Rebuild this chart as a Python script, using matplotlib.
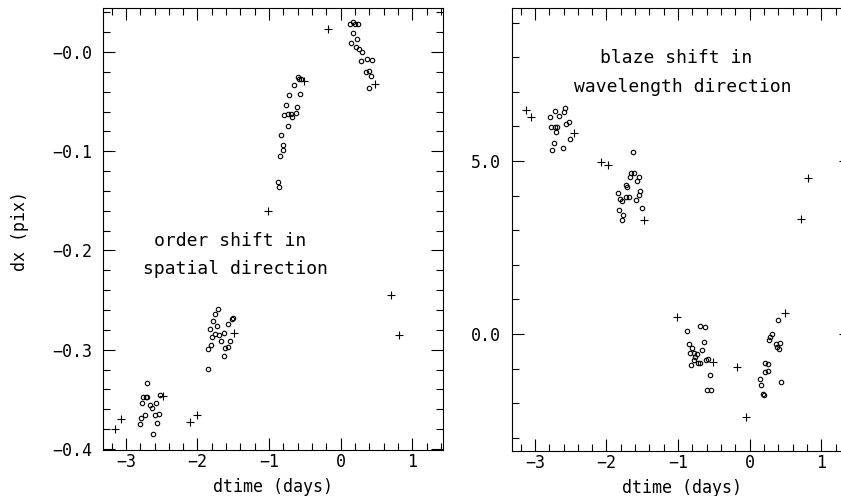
import matplotlib
matplotlib.use("Agg")
import matplotlib.pyplot as plt
from matplotlib.ticker import MultipleLocator, FixedLocator, FixedFormatter

# -= left panel: order shift (dx, pix) =-
left_circ_t = [0.13, 0.17, 0.20, 0.24, 0.17, 0.235, 0.15, 0.21, 0.26, 0.30, 0.29, 0.37, 0.44, 0.36, 0.39, 0.42, 0.40,
               -0.60, -0.58, -0.56, -0.65, -0.72, -0.57, -0.76, -0.61, -0.79, -0.73, -0.70, -0.63, -0.68, -0.74,
               -0.83, -0.80, -0.81, -0.85, -0.88, -0.86,
               -1.71, -1.76, -1.78, -1.73, -1.83, -1.58, -1.52, -1.51, -1.75, -1.70, -1.63, -1.80, -1.67, -1.55,
               -1.81, -1.85, -1.61, -1.57, -1.63, -1.86,
               -2.71, -2.76, -2.72, -2.70, -2.78, -2.58, -2.67, -2.64, -2.53, -2.74, -2.79, -2.60, -2.54, -2.81,
               -2.56, -2.62]
left_circ_dx = [0.028, 0.030, 0.028, 0.028, 0.019, 0.013, 0.009, 0.005, 0.003, 0.000, -0.009, -0.007, -0.008, -0.020,
                -0.019, -0.024, -0.036,
                -0.025, -0.027, -0.027, -0.033, -0.043, -0.042, -0.053, -0.055, -0.063, -0.062, -0.062, -0.061,
                -0.066, -0.075, -0.084, -0.094, -0.099, -0.105, -0.131, -0.136,
                -0.259, -0.264, -0.271, -0.276, -0.279, -0.274, -0.269, -0.268, -0.284, -0.285, -0.283, -0.287,
                -0.291, -0.291, -0.295, -0.299, -0.298, -0.297, -0.306, -0.319,
                -0.334, -0.348, -0.348, -0.348, -0.354, -0.354, -0.356, -0.359, -0.346, -0.366, -0.369, -0.366,
                -0.365, -0.375, -0.374, -0.385]
left_plus_t = [-0.18, 0.48, -0.51, -1.02, -1.49, -2.48, -3.07, -3.15, -2.10, -2.00, 0.71, 0.82]
left_plus_dx = [0.023, -0.032, -0.029, -0.160, -0.283, -0.347, -0.370, -0.380, -0.373, -0.366, -0.245, -0.285]

# -= right panel: blaze shift =-
right_circ_t = [-2.58, -2.60, -2.72, -2.79, -2.66, -2.78, -2.72, -2.69, -2.70, -2.57, -2.53, -2.51, -2.74, -2.61, -2.76,
                -1.63, -1.66, -1.61, -1.67, -1.54, -1.57, -1.73, -1.71, -1.53, -1.54, -1.84, -1.69, -1.73, -1.81,
                -1.79, -1.59, -1.51, -1.83, -1.77, -1.78,
                -0.87, -0.69, -0.62, -0.85, -0.64, -0.80, -0.67, -0.84, -0.78, -0.73, -0.76, -0.78, -0.61, -0.58,
                -0.82, -0.72, -0.70, -0.56, -0.60, -0.54,
                0.39, 0.31, 0.29, 0.27, 0.37, 0.43, 0.38, 0.41, 0.22, 0.26, 0.21, 0.25, 0.14, 0.16, 0.44, 0.18, 0.20]
right_circ_dw = [6.54, 6.42, 6.44, 6.26, 6.29, 5.97, 5.99, 5.97, 5.83, 6.06, 6.12, 5.63, 5.52, 5.38, 5.31,
                 5.26, 4.64, 4.64, 4.53, 4.55, 4.41, 4.30, 4.26, 4.12, 4.02, 4.08, 3.97, 3.95, 3.89, 3.84, 3.87,
                 3.65, 3.57, 3.43, 3.29,
                 0.10, 0.23, 0.19, -0.29, -0.23, -0.40, -0.46, -0.56, -0.55, -0.59, -0.66, -0.75, -0.75, -0.71,
                 -0.89, -0.84, -0.84, -1.18, -1.62, -1.62,
                 0.40, 0.00, -0.08, -0.18, -0.30, -0.26, -0.37, -0.43, -0.83, -0.87, -1.09, -1.06, -1.30, -1.48,
                 -1.38, -1.73, -1.75]
right_plus_t = [-3.12, -3.05, -2.46, -2.08, -1.98, -1.48, 0.82, 0.72, 1.30, 1.30, -1.02, 0.50, -0.17, -0.05, -0.51]
right_plus_dw = [6.47, 6.26, 5.82, 4.96, 4.88, 3.29, 4.52, 3.32, 5.0, 0.0, 0.49, 0.61, -0.96, -2.39, -0.81]

xticks = [-3, -2, -1, 0, 1]
xtick_labels = ["\u22123", "\u22122", "\u22121", "0", "1"]
left_yticks = [0.0, -0.1, -0.2, -0.3, -0.4]
left_ytick_labels = ["\u22120.0", "\u22120.1", "\u22120.2", "\u22120.3", "\u22120.4"]
right_yticks = [0.0, 5.0, 10.0]
right_ytick_labels = ["0.0", "5.0", "10.0"]

plt.rcParams['font.family'] = ['DejaVu Sans Mono', 'DejaVu Sans']
plt.rcParams['font.size'] = 12

W, H = 841, 496
fig = plt.figure(figsize=(W / 100, H / 100), dpi=100)


def box(x0, y0, x1, y1):
    # pixel box -> figure fraction
    return [x0 / W, 1 - y1 / H, (x1 - x0) / W, (y1 - y0) / H]


def label(x, y, s, **kw):
    # text placed by pixel position
    fig.text(x / W, 1 - y / H, s, ha='center', va='center', **kw)


def style(ax, yminor):
    ax.set_xlim(-3.32, 1.43)
    ax.xaxis.set_major_locator(FixedLocator(xticks))
    ax.xaxis.set_major_formatter(FixedFormatter(xtick_labels))
    ax.xaxis.set_minor_locator(MultipleLocator(0.2))
    ax.yaxis.set_minor_locator(MultipleLocator(yminor))
    ax.tick_params(which='both', direction='in', top=True, right=True, width=0.8, color='black')
    ax.tick_params(which='major', length=8.5)
    ax.tick_params(which='minor', length=5)
    ax.tick_params(axis='x', pad=2)
    ax.tick_params(axis='y', pad=8)
    for s in ax.spines.values():
        s.set_linewidth(0.8)
    ax.set_xlabel("dtime (days)", labelpad=5)


ax1 = fig.add_axes(box(103, 8, 443, 450))
ax1.plot(left_circ_t, left_circ_dx, 'o', ms=3.2, mfc='none', mec='black', mew=0.8)
ax1.plot(left_plus_t, left_plus_dx, '+', ms=6, mec='black', mew=0.8)
ax1.set_ylim(-0.401, 0.0443)
ax1.yaxis.set_major_locator(FixedLocator(left_yticks))
ax1.yaxis.set_major_formatter(FixedFormatter(left_ytick_labels))
style(ax1, 0.02)
label(230, 241, "order shift in", fontsize=13)
label(235, 269, "spatial direction", fontsize=13)
label(20, 231, "dx (pix)", rotation=90)

ax2 = fig.add_axes(box(512, 8, 852, 451))
ax2.plot(right_circ_t, right_circ_dw, 'o', ms=3.2, mfc='none', mec='black', mew=0.8)
ax2.plot(right_plus_t, right_plus_dw, '+', ms=6, mec='black', mew=0.8, clip_on=False)
ax2.set_ylim(-3.38, 9.42)
ax2.yaxis.set_major_locator(FixedLocator(right_yticks))
ax2.yaxis.set_major_formatter(FixedFormatter(right_ytick_labels))
style(ax2, 1.0)
label(676, 58, "blaze shift in", fontsize=13)
label(683, 87, "wavelength direction", fontsize=13)

fig.savefig("out.png", dpi=100)
